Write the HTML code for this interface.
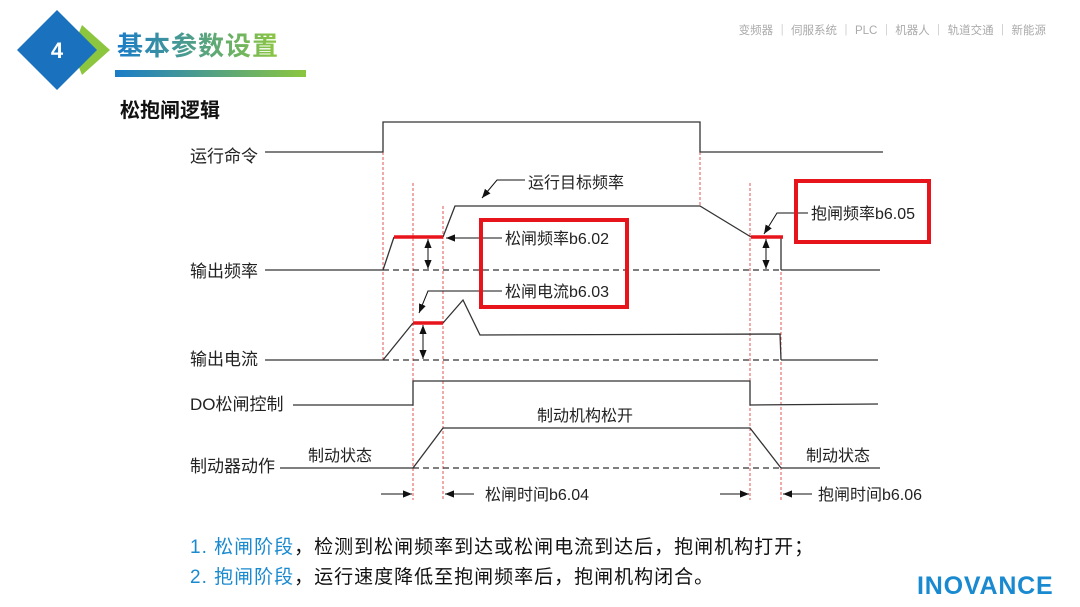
<!DOCTYPE html>
<html><head><meta charset="utf-8"><style>
html,body{margin:0;padding:0;background:#fff}
body{width:1080px;height:607px;overflow:hidden;position:relative;font-family:"Liberation Sans","Noto Sans CJK SC",sans-serif}
</style></head><body>
<svg width="1080" height="607" style="position:absolute;left:0;top:0" font-family="Liberation Sans, Noto Sans CJK SC, sans-serif">
<defs>
<linearGradient id="g1" x1="0" x2="1"><stop offset="0" stop-color="#1a7cc8"/><stop offset="1" stop-color="#8cc63f"/></linearGradient>
<marker id="ah" viewBox="0 0 10 10" refX="10" refY="5" markerWidth="9" markerHeight="9" orient="auto-start-reverse"><path d="M0,1 L10,5 L0,9 z" fill="#111"/></marker>
</defs>
<polygon points="82,25 110,50 82,75 72,50" fill="#8cc63f"/>
<polygon points="57,10 97,50 57,90 17,50" fill="#1a72be"/>
<text x="57" y="58" font-size="22" font-weight="bold" fill="#fff" text-anchor="middle">4</text>
<text x="117" y="55" font-size="26" font-weight="bold" fill="url(#g1)" letter-spacing="1">基本参数设置</text>
<rect x="115" y="70" width="191" height="7" fill="url(#g1)"/>
<text x="120" y="117" font-size="20" font-weight="bold" fill="#111">松抱闸逻辑</text>
<text x="1046" y="34" font-size="11.5" fill="#aaa" text-anchor="end">变频器 ｜ 伺服系统 ｜ PLC ｜ 机器人 ｜ 轨道交通 ｜ 新能源</text>
<text x="917" y="594" font-size="25" font-weight="bold" fill="#1a8ad0" letter-spacing="0.8">INOVANCE</text>

<g stroke="#333" stroke-width="1.3" fill="none">
<g stroke="#d44" stroke-width="0.9" stroke-dasharray="3,2">
<line x1="383" y1="152" x2="383" y2="360"/>
<line x1="413" y1="183" x2="413" y2="500"/>
<line x1="443" y1="206" x2="443" y2="500"/>
<line x1="700" y1="122" x2="700" y2="206"/>
<line x1="750" y1="183" x2="750" y2="500"/>
<line x1="781" y1="237" x2="781" y2="500"/>
</g>
<polyline points="265,152 383,152 383,122 700,122 700,152 883,152"/>
<line x1="265" y1="270" x2="383" y2="270"/>
<line x1="383" y1="270" x2="781" y2="270" stroke-dasharray="6,4"/>
<line x1="781" y1="270" x2="880" y2="270"/>
<polyline points="383,270 394,237"/>
<polyline points="443,237 455,206 700,206 751,237"/>
<line x1="781" y1="237" x2="781" y2="270"/>
<line x1="265" y1="360" x2="383" y2="360"/>
<line x1="383" y1="360" x2="781" y2="360" stroke-dasharray="6,4"/>
<line x1="781" y1="360" x2="878" y2="360"/>
<polyline points="383,360 413,323"/>
<polyline points="443,323 463,300 480,335 780,334 781,360"/>
<polyline points="293,405 413,405 413,381 750,381 750,405 878,404"/>
<line x1="280" y1="468" x2="413" y2="468"/>
<line x1="413" y1="468" x2="781" y2="468" stroke-dasharray="6,4"/>
<line x1="781" y1="468" x2="880" y2="468"/>
<polyline points="413,468 443,428 750,428 781,468"/>
<line x1="428" y1="239" x2="428" y2="269" marker-start="url(#ah)" marker-end="url(#ah)" stroke="#111" stroke-width="1"/>
<line x1="766" y1="239" x2="766" y2="269" marker-start="url(#ah)" marker-end="url(#ah)" stroke="#111" stroke-width="1"/>
<line x1="423" y1="325" x2="423" y2="359" marker-start="url(#ah)" marker-end="url(#ah)" stroke="#111" stroke-width="1"/>
<polyline points="525,180 497,180 482,198" marker-end="url(#ah)" stroke="#111" stroke-width="1"/>
<polyline points="502,238 446,238" marker-end="url(#ah)" stroke="#111" stroke-width="1"/>
<polyline points="502,291 428,291 419,313" marker-end="url(#ah)" stroke="#111" stroke-width="1"/>
<polyline points="808,213 777,213 764,234" marker-end="url(#ah)" stroke="#111" stroke-width="1"/>
<line x1="381" y1="494" x2="412" y2="494" marker-end="url(#ah)" stroke="#111" stroke-width="1"/>
<line x1="474" y1="494" x2="445" y2="494" marker-end="url(#ah)" stroke="#111" stroke-width="1"/>
<line x1="720" y1="494" x2="749" y2="494" marker-end="url(#ah)" stroke="#111" stroke-width="1"/>
<line x1="812" y1="494" x2="783" y2="494" marker-end="url(#ah)" stroke="#111" stroke-width="1"/>
</g>
<g stroke="#e8141c" stroke-width="3.5">
<line x1="394" y1="237" x2="443" y2="237"/>
<line x1="751" y1="237" x2="783" y2="237"/>
<line x1="413" y1="323" x2="443" y2="323"/>
</g>
<rect x="481" y="220" width="146" height="87" fill="none" stroke="#e8141c" stroke-width="4"/>
<rect x="796" y="181" width="133" height="61" fill="none" stroke="#e8141c" stroke-width="4"/>

<g font-size="16" fill="#222">
<text x="190" y="162" font-size="17">运行命令</text>
<text x="190" y="277" font-size="17">输出频率</text>
<text x="190" y="365" font-size="17">输出电流</text>
<text x="190" y="410" font-size="17">DO松闸控制</text>
<text x="190" y="472" font-size="17">制动器动作</text>
<text x="528" y="188">运行目标频率</text>
<text x="505" y="244">松闸频率b6.02</text>
<text x="505" y="297">松闸电流b6.03</text>
<text x="811" y="219">抱闸频率b6.05</text>
<text x="537" y="421">制动机构松开</text>
<text x="308" y="461">制动状态</text>
<text x="806" y="461">制动状态</text>
<text x="485" y="500">松闸时间b6.04</text>
<text x="818" y="500">抱闸时间b6.06</text>
</g>
<g font-size="19" letter-spacing="1">
<text x="190" y="553"><tspan fill="#1a8ad0">1.  松闸阶段</tspan><tspan fill="#111">，检测到松闸频率到达或松闸电流到达后，抱闸机构打开；</tspan></text>
<text x="190" y="583"><tspan fill="#1a8ad0">2.  抱闸阶段</tspan><tspan fill="#111">，运行速度降低至抱闸频率后，抱闸机构闭合。</tspan></text>
</g>
</svg>
</body></html>
